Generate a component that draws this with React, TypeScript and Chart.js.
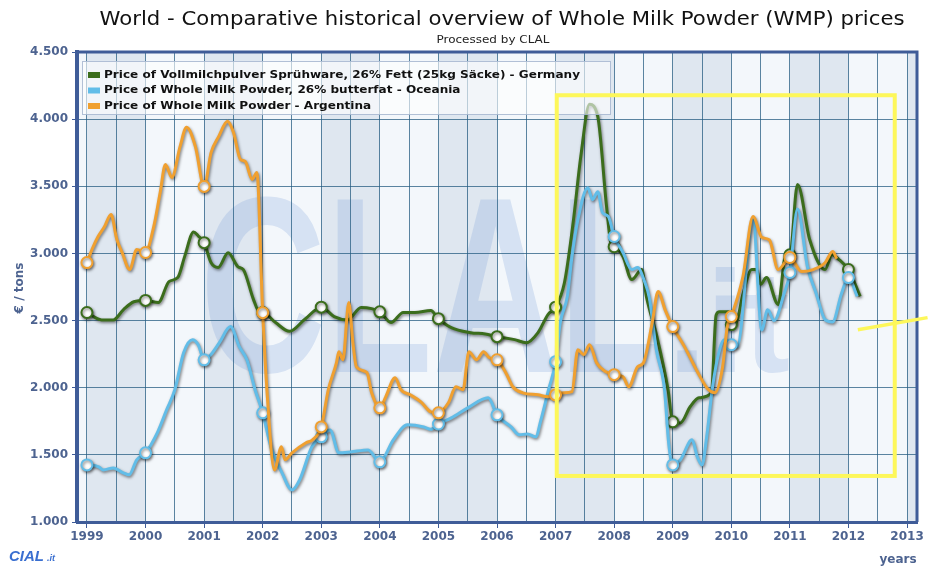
import React, { useEffect, useRef } from 'react';
import { Chart, registerables } from 'chart.js';

Chart.register(...registerables);

// ---------------- DATA ----------------
const germanyYears = [
  1999.0, 1999.25, 1999.45, 1999.62, 1999.8, 2000.0, 2000.22, 2000.4, 2000.55, 2000.67, 2000.82, 2000.9,
  2001.0, 2001.12, 2001.24, 2001.41, 2001.58, 2001.67, 2001.84, 2001.95, 2002.0, 2002.22, 2002.46, 2002.72,
  2003.0, 2003.22, 2003.45, 2003.68, 2004.0, 2004.19, 2004.4, 2004.6, 2004.87, 2005.0, 2005.22, 2005.55,
  2005.8, 2006.0, 2006.3, 2006.5, 2006.7, 2006.87, 2007.0, 2007.15, 2007.3, 2007.43, 2007.58, 2007.72,
  2007.87, 2007.95, 2008.0, 2008.15, 2008.3, 2008.47, 2008.55, 2008.73, 2008.92, 2009.0, 2009.13, 2009.3,
  2009.45, 2009.66, 2009.74, 2009.8, 2009.96, 2010.0, 2010.08, 2010.2, 2010.35, 2010.43, 2010.5, 2010.6,
  2010.8, 2010.93, 2011.0, 2011.13, 2011.34, 2011.6, 2011.72, 2011.85, 2012.0, 2012.2,
];
const germanyPrices = [
  2560, 2505, 2505, 2580, 2640, 2650, 2635, 2790, 2820, 2980, 3160, 3130,
  3080, 2930, 2895, 3005, 2900, 2880, 2660, 2560, 2560, 2485, 2420, 2510,
  2600, 2530, 2505, 2597, 2565, 2485, 2560, 2560, 2575, 2514, 2447, 2410,
  2400, 2380, 2358, 2335, 2410, 2545, 2600, 2780, 3230, 3720, 4110, 4020,
  3350, 3066, 3050, 2977, 2805, 2880, 2680, 2380, 1985, 1746, 1738, 1860,
  1925, 1962, 2540, 2565, 2565, 2470, 2480, 2700, 2880, 2880, 2770, 2820,
  2620, 2990, 2990, 3514, 3100, 2880, 2990, 2950, 2880, 2680,
];

const oceaniaYears = [
  1999.0, 1999.2, 1999.28, 1999.45, 1999.62, 1999.72, 1999.85, 2000.0, 2000.2, 2000.36, 2000.5, 2000.65,
  2000.8, 2000.9, 2001.0, 2001.12, 2001.26, 2001.45, 2001.6, 2001.73, 2001.87, 2002.0, 2002.14, 2002.33,
  2002.5, 2002.63, 2002.84, 2003.0, 2003.15, 2003.3, 2003.5, 2003.8, 2004.0, 2004.23, 2004.47, 2004.75,
  2004.87, 2005.0, 2005.22, 2005.5, 2005.85, 2006.0, 2006.24, 2006.38, 2006.52, 2006.66, 2006.75, 2006.88,
  2007.0, 2007.08, 2007.2, 2007.28, 2007.38, 2007.55, 2007.63, 2007.72, 2007.8, 2007.9, 2008.0, 2008.15,
  2008.3, 2008.4, 2008.52, 2008.6, 2008.72, 2008.86, 2008.93, 2009.0, 2009.13, 2009.33, 2009.42, 2009.5,
  2009.58, 2009.68, 2009.8, 2009.88, 2010.0, 2010.1, 2010.37, 2010.52, 2010.62, 2010.73, 2010.9, 2011.0,
  2011.13, 2011.3, 2011.45, 2011.6, 2011.73, 2011.88, 2012.0, 2012.15,
];
const oceaniaPrices = [
  1425, 1411, 1388, 1403, 1366, 1351, 1463, 1515, 1664, 1836, 1985, 2261,
  2358, 2320, 2208, 2250, 2335, 2455, 2306, 2208, 1985, 1813, 1560, 1366,
  1239, 1313, 1560, 1634, 1686, 1515, 1522, 1537, 1448, 1612, 1724, 1708,
  1690, 1730, 1775, 1850, 1925, 1798, 1708, 1649, 1656, 1634, 1761, 1985,
  2194, 2485, 2680, 2977, 3250, 3490, 3400, 3460, 3305, 3275, 3126, 3007,
  2880, 2895, 2790, 2670, 2283, 1985, 1590, 1425, 1463, 1612, 1485, 1425,
  1635, 2007, 2283, 2357, 2320, 2305, 3250, 2430, 2580, 2500, 2700, 2858,
  3330, 2900, 2700, 2507, 2490, 2700, 2820, 2680,
];

const argentinaYears = [
  1999.0, 1999.1, 1999.19, 1999.3, 1999.41, 1999.51, 1999.6, 1999.73, 1999.85, 2000.0, 2000.14, 2000.25,
  2000.34, 2000.45, 2000.59, 2000.7, 2000.85, 2001.0, 2001.12, 2001.25, 2001.4, 2001.5, 2001.62, 2001.7,
  2001.82, 2001.9, 2002.0, 2002.08, 2002.2, 2002.32, 2002.38, 2002.5, 2002.74, 2002.85, 2003.0, 2003.12,
  2003.26, 2003.3, 2003.37, 2003.47, 2003.54, 2003.6, 2003.78, 2003.86, 2004.0, 2004.1, 2004.26, 2004.36,
  2004.52, 2004.7, 2004.87, 2005.0, 2005.17, 2005.3, 2005.42, 2005.52, 2005.65, 2005.77, 2005.87, 2006.0,
  2006.15, 2006.27, 2006.44, 2006.7, 2006.87, 2007.0, 2007.15, 2007.28, 2007.38, 2007.48, 2007.58, 2007.7,
  2007.85, 2008.0, 2008.15, 2008.25, 2008.4, 2008.5, 2008.65, 2008.75, 2008.87, 2009.0, 2009.2, 2009.43,
  2009.6, 2009.72, 2009.85, 2009.93, 2010.0, 2010.2, 2010.37, 2010.52, 2010.65, 2010.8, 2011.0, 2011.2,
  2011.4, 2011.6, 2011.73, 2011.8,
];
const argentinaPrices = [
  2932, 3044, 3126, 3200, 3290, 3104, 3007, 2880, 3030, 3007, 3200, 3454,
  3663, 3566, 3797, 3940, 3797, 3499, 3752, 3872, 3984, 3902, 3700, 3686,
  3551, 3603, 2559, 1932, 1388, 1560, 1463, 1515, 1590, 1612, 1708, 1985,
  2186, 2268, 2208, 2634, 2335, 2156, 2112, 1962, 1850, 1932, 2074, 1985,
  1947, 1895, 1820, 1813, 1888, 2007, 1985, 2268, 2208, 2268, 2223, 2208,
  2112, 2007, 1962, 1947, 1932, 1947, 1962, 1970, 2283, 2246, 2320, 2186,
  2120, 2097, 2082, 2007, 2156, 2186, 2485, 2716, 2580, 2455, 2306, 2112,
  1990, 1962, 2150, 2450, 2530, 2830, 3275, 3120, 3100, 2880, 2970, 2865,
  2880, 2930, 3015, 2960,
];

const seriesLabels = [
  'Price of Vollmilchpulver Sprühware, 26% Fett (25kg Säcke) - Germany',
  'Price of Whole Milk Powder, 26% butterfat - Oceania',
  'Price of Whole Milk Powder - Argentina',
];
const seriesColors = ['#3b6d1c', '#62bde8', '#f0a030'];

const yTickValues = [1000, 1500, 2000, 2500, 3000, 3500, 4000, 4500];
const xTickYears = [1999, 2000, 2001, 2002, 2003, 2004, 2005, 2006, 2007, 2008, 2009, 2010, 2011, 2012, 2013];
const xRange = [1998.83, 2013.17];
const yRange = [1000, 4500];

// annotation (yellow highlight) in data units
const highlightYears = [2007.02, 2012.79];
const highlightPrices = [1343, 4178];
const slashYears = [2012.16, 2013.35];
const slashPrices = [2432, 2522];

const TITLE = 'World - Comparative historical overview of Whole Milk Powder (WMP) prices';
const SUBTITLE = 'Processed by CLAL';

// ---------------- STYLE ----------------
const FONT = '"DejaVu Sans", Verdana, sans-serif';
const axisColor = '#3f5c98';
const tickColor = '#4d6390';
const gridColor = 'rgba(38, 92, 130, 0.75)';

const toPoints = (xs: number[], ys: number[]) => xs.map((x, i) => ({ x, y: ys[i] }));

function fitText(ctx: CanvasRenderingContext2D, text: string, cx: number, cy: number, width: number, font: string, color: string, align: CanvasTextAlign = 'center') {
  ctx.save();
  ctx.font = font;
  const w = ctx.measureText(text).width;
  const s = width / w;
  ctx.translate(cx, cy);
  ctx.scale(s, 1);
  ctx.fillStyle = color;
  ctx.textAlign = align;
  ctx.textBaseline = 'middle';
  ctx.fillText(text, 0, 0);
  ctx.restore();
}

const backgroundPlugin = {
  id: 'bg',
  beforeDraw(chart: any) {
    const { ctx, chartArea: a, scales } = chart;
    const xs = scales.x;
    ctx.save();
    ctx.fillStyle = '#ffffff';
    ctx.fillRect(0, 0, chart.width, chart.height);
    ctx.fillStyle = '#f3f7fb';
    ctx.fillRect(a.left, a.top, a.right - a.left, a.bottom - a.top);
    ctx.fillStyle = '#dfe7f0';
    for (const yr of xTickYears) {
      if (yr % 2 === 1) {
        const x0 = Math.max(a.left, xs.getPixelForValue(yr));
        const x1 = Math.min(a.right, xs.getPixelForValue(yr + 1));
        if (x1 > x0) ctx.fillRect(x0, a.top, x1 - x0, a.bottom - a.top);
      }
    }
    // watermark
    ctx.beginPath();
    ctx.rect(a.left, a.top, a.right - a.left, a.bottom - a.top);
    ctx.clip();
    ctx.fillStyle = 'rgba(120, 158, 218, 0.24)';
    ctx.font = 'bold 250px "Liberation Sans", Arial, sans-serif';
    ctx.textBaseline = 'alphabetic';
    const w = ctx.measureText('CLAL').width;
    ctx.save();
    ctx.translate(200, 372);
    ctx.scale(465 / w, 1);
    ctx.fillText('CLAL', 0, 0);
    ctx.restore();
    ctx.font = 'bold 145px "Liberation Sans", Arial, sans-serif';
    const w2 = ctx.measureText('.it').width;
    ctx.save();
    ctx.translate(668, 372);
    ctx.scale(122 / w2, 1);
    ctx.fillText('.it', 0, 0);
    ctx.restore();
    ctx.restore();
  },
};

const shadowPlugin = {
  id: 'shadow',
  beforeDatasetDraw(chart: any) {
    const c = chart.ctx;
    c.save();
    c.shadowColor = 'rgba(0,0,0,0.5)';
    c.shadowBlur = 3;
    c.shadowOffsetX = 1;
    c.shadowOffsetY = 1.5;
  },
  afterDatasetDraw(chart: any) {
    chart.ctx.restore();
  },
};

const overlayPlugin = {
  id: 'overlay',
  afterDraw(chart: any) {
    const { ctx, chartArea: a, scales } = chart;
    const xs = scales.x;
    const ys = scales.y;
    ctx.save();
    // top/right frame
    ctx.strokeStyle = axisColor;
    ctx.lineWidth = 3;
    ctx.beginPath();
    ctx.moveTo(a.left, a.top);
    ctx.lineTo(a.right, a.top);
    ctx.lineTo(a.right, a.bottom);
    ctx.stroke();

    // legend
    const lx = 82, ly = 61, lw = 528, lh = 53;
    ctx.fillStyle = 'rgba(255,255,255,0.6)';
    ctx.fillRect(lx, ly, lw, lh);
    ctx.strokeStyle = 'rgba(170,185,210,0.9)';
    ctx.lineWidth = 1;
    ctx.strokeRect(lx + 0.5, ly + 0.5, lw, lh);
    const legendFont = `bold 11px ${FONT}`;
    ctx.font = legendFont;
    const scaleL = 476 / ctx.measureText(seriesLabels[0]).width;
    seriesLabels.forEach((lab, i) => {
      const yy = 75 + i * 15.5;
      ctx.fillStyle = seriesColors[i];
      ctx.fillRect(88, yy - 3, 12, 6);
      ctx.save();
      ctx.translate(104, yy);
      ctx.scale(scaleL, 1);
      ctx.font = legendFont;
      ctx.fillStyle = '#111';
      ctx.textAlign = 'left';
      ctx.textBaseline = 'middle';
      ctx.fillText(lab, 0, 0);
      ctx.restore();
    });

    // yellow highlight
    ctx.strokeStyle = '#fdf75a';
    ctx.lineWidth = 4;
    const hx0 = xs.getPixelForValue(highlightYears[0]);
    const hx1 = xs.getPixelForValue(highlightYears[1]);
    const hy0 = ys.getPixelForValue(highlightPrices[1]);
    const hy1 = ys.getPixelForValue(highlightPrices[0]);
    ctx.strokeRect(hx0, hy0, hx1 - hx0, hy1 - hy0);
    ctx.lineWidth = 3.5;
    ctx.beginPath();
    ctx.moveTo(xs.getPixelForValue(slashYears[0]), ys.getPixelForValue(slashPrices[0]));
    ctx.lineTo(xs.getPixelForValue(slashYears[1]), ys.getPixelForValue(slashPrices[1]));
    ctx.stroke();

    // titles
    fitText(ctx, TITLE, 502, 20, 805, `19px ${FONT}`, '#111');
    fitText(ctx, SUBTITLE, 493, 40, 113, `11px ${FONT}`, '#222');

    // y axis title
    ctx.save();
    ctx.translate(20, 288);
    ctx.rotate(-Math.PI / 2);
    ctx.font = `bold 12px ${FONT}`;
    ctx.fillStyle = tickColor;
    ctx.textAlign = 'center';
    ctx.textBaseline = 'middle';
    ctx.fillText('€ / tons', 0, 0);
    ctx.restore();

    // x axis title
    ctx.font = `bold 12px ${FONT}`;
    ctx.fillStyle = tickColor;
    ctx.textAlign = 'center';
    ctx.textBaseline = 'middle';
    ctx.fillText('years', 898, 560);

    // logo
    ctx.fillStyle = '#3a6fd0';
    ctx.textAlign = 'left';
    ctx.font = `italic bold 15px "Liberation Sans", Arial, sans-serif`;
    ctx.fillText('CIAL', 9, 557);
    ctx.font = `italic bold 9px "Liberation Sans", Arial, sans-serif`;
    ctx.fillText('.it', 47, 559);
    ctx.restore();
  },
};

const fmtThousands = (v: number) => `${Math.floor(v / 1000)}.${String(v % 1000).padStart(3, '0')}`;

export default function App() {
  const canvasRef = useRef<HTMLCanvasElement | null>(null);

  useEffect(() => {
    const canvas = canvasRef.current;
    if (!canvas) return;
    const halfYears: number[] = [];
    for (let y = xTickYears[0]; y <= xTickYears[xTickYears.length - 1]; y += 0.5) halfYears.push(y);

    const mk = (label: string, pts: any[], color: string, order: number) => ({
      label,
      data: pts,
      borderColor: color,
      backgroundColor: color,
      borderWidth: 3,
      cubicInterpolationMode: 'monotone' as const,
      pointRadius: (c: any) => (c.raw && Number.isInteger(c.raw.x) ? 5.5 : 0),
      pointBackgroundColor: '#ffffff',
      pointBorderColor: color,
      pointBorderWidth: 2,
      pointHoverRadius: 0,
      fill: false,
      order,
    });

    const chart = new Chart(canvas, {
      type: 'line',
      data: {
        datasets: [
          mk(seriesLabels[0], toPoints(germanyYears, germanyPrices), seriesColors[0], 2),
          mk(seriesLabels[1], toPoints(oceaniaYears, oceaniaPrices), seriesColors[1], 1),
          mk(seriesLabels[2], toPoints(argentinaYears, argentinaPrices), seriesColors[2], 0),
        ],
      },
      options: {
        responsive: false,
        animation: false,
        layout: { padding: { top: 52, right: 11, left: 0, bottom: 0 } },
        plugins: {
          legend: { display: false },
          tooltip: { enabled: false },
          title: { display: false },
        },
        scales: {
          x: {
            type: 'linear',
            min: xRange[0],
            max: xRange[1],
            afterBuildTicks: (s: any) => {
              s.ticks = halfYears.map((v) => ({ value: v }));
            },
            afterFit: (s: any) => {
              s.height = 46;
            },
            grid: {
              color: gridColor,
              lineWidth: 1,
              drawTicks: true,
              tickLength: 6,
              tickColor: (c: any) => (c.tick && Number.isInteger(c.tick.value) ? axisColor : 'rgba(0,0,0,0)'),
            },
            border: { display: true, color: axisColor, width: 3 },
            ticks: {
              autoSkip: false,
              maxRotation: 0,
              padding: 2,
              color: tickColor,
              font: { family: FONT, size: 12, weight: 'bold' },
              callback: (v: any) => (Number.isInteger(v) ? String(v) : ''),
            },
          },
          y: {
            type: 'linear',
            min: yRange[0],
            max: yRange[1],
            afterBuildTicks: (s: any) => {
              s.ticks = yTickValues.map((v) => ({ value: v }));
            },
            afterFit: (s: any) => {
              s.width = 77;
            },
            grid: { color: gridColor, lineWidth: 1, drawTicks: true, tickLength: 5, tickColor: axisColor },
            border: { display: true, color: axisColor, width: 4 },
            ticks: {
              padding: 4,
              color: tickColor,
              font: { family: FONT, size: 12, weight: 'bold' },
              callback: (v: any) => fmtThousands(Number(v)),
            },
          },
        },
      },
      plugins: [backgroundPlugin, shadowPlugin, overlayPlugin],
    } as any);
    return () => chart.destroy();
  }, []);

  return (
    <div style={{ position: 'fixed', left: 0, top: 0, width: 928, height: 568, background: '#fff' }}>
      <canvas ref={canvasRef} width={928} height={568} style={{ display: 'block' }} />
    </div>
  );
}
